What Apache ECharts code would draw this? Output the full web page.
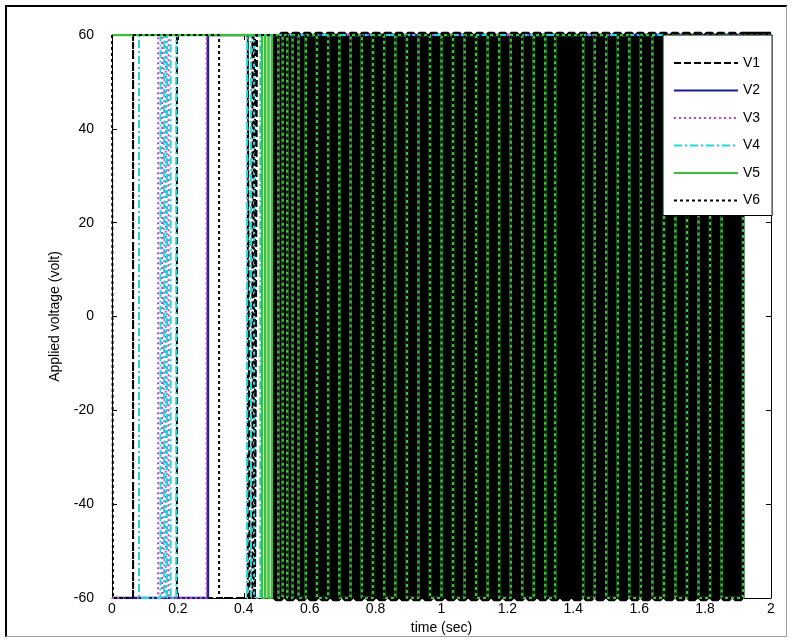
<!DOCTYPE html>
<html>
<head>
<meta charset="utf-8">
<script src="https://cdn.jsdelivr.net/npm/echarts@6/dist/echarts.min.js"></script>
<style>
html,body{margin:0;padding:0;background:#fff;}
#chart{position:absolute;left:0;top:0;width:792px;height:642px;}
#frame{position:absolute;left:5px;top:5px;width:782px;height:632px;box-sizing:border-box;
 border-top:2px solid #000;border-left:2px solid #000;border-right:1px solid #a0a0a0;border-bottom:1px solid #a0a0a0;pointer-events:none;}
</style>
</head>
<body>
<div id="chart"></div>
<div id="frame"></div>
<script>
// ---- data (switching instants of each square-wave voltage, seconds) ----
const seriesNames = ['V1', 'V2', 'V3', 'V4', 'V5', 'V6'];
const xTicks = [0, 0.2, 0.4, 0.6, 0.8, 1, 1.2, 1.4, 1.6, 1.8, 2];
const yTicks = [-60, -40, -20, 0, 20, 40, 60];
const tStart = 0;
const tEnd = 2;
const denseStart = 0.495;

const v1Init = -60;
const v1Switches = [0.064, 0.197, 0.412, 0.418, 0.426, 0.434, 0.44];
const v1DenseSwitches = [
  0.497, 0.514, 0.532, 0.549, 0.567, 0.584, 0.601, 0.619, 0.636, 0.654,
  0.671, 0.689, 0.706, 0.724, 0.741, 0.758, 0.776, 0.793, 0.811, 0.828,
  0.846, 0.863, 0.880, 0.898, 0.915, 0.933, 0.950, 0.968, 0.985, 1.002,
  1.020, 1.037, 1.055, 1.072, 1.090, 1.107, 1.124, 1.142, 1.159, 1.177,
  1.194, 1.212, 1.229, 1.246, 1.264, 1.281, 1.299, 1.316, 1.334, 1.351,
  1.368, 1.386, 1.403, 1.421, 1.438, 1.456, 1.473, 1.490, 1.508, 1.525,
  1.543, 1.560, 1.578, 1.595, 1.612, 1.630, 1.647, 1.665, 1.682, 1.700,
  1.717, 1.734, 1.752, 1.769, 1.787, 1.804, 1.822, 1.839, 1.856, 1.874,
  1.891, 1.909
];
const v2Init = -60;
const v2Switches = [0.291];
const v3Init = -60;
const v3Switches = [0.14, 0.152, 0.163, 0.172, 0.287];
const v4Init = 60;
const v4Switches = [0.082, 0.147, 0.158, 0.167, 0.178, 0.195, 0.41, 0.422, 0.431, 0.45];
const v5Init = 60;
const v5Switches = [0.455, 0.465, 0.475, 0.485,
  0.505, 0.518, 0.532, 0.548, 0.566, 0.588, 0.622, 0.656, 0.69, 0.724,
  0.758, 0.792, 0.826, 0.86, 0.895, 0.93, 0.965, 1.0, 1.035, 1.07,
  1.105, 1.14, 1.175, 1.21, 1.245, 1.28, 1.315, 1.345, 1.43, 1.465,
  1.5, 1.535, 1.57, 1.605, 1.64, 1.675, 1.71, 1.745, 1.78, 1.815, 1.85, 1.915];
const v6Init = 60;
const v6Switches = [0.003, 0.064, 0.325, 0.43,
  0.505, 0.518, 0.532, 0.548, 0.566, 0.588, 0.622, 0.656, 0.69, 0.724,
  0.758, 0.792, 0.826, 0.86, 0.895, 0.93, 0.965, 1.0, 1.035, 1.07,
  1.105, 1.14, 1.175, 1.21, 1.245, 1.28, 1.315, 1.345, 1.43, 1.465,
  1.5, 1.535, 1.57, 1.605, 1.64, 1.675, 1.71, 1.745, 1.78, 1.815, 1.85, 1.915];

// ---- build square waves from switching instants ----
function wave(init, switches, t0, t1) {
  const pts = [[t0, init]];
  let v = init;
  for (const t of switches) {
    pts.push([t, v]);
    v = -v;
    pts.push([t, v]);
  }
  pts.push([t1, v]);
  return pts;
}
function levelAfter(init, switches) {
  return switches.length % 2 === 0 ? init : -init;
}

const FONT = "'Liberation Sans', Arial, sans-serif";
const v1Thin = wave(v1Init, v1Switches, tStart, denseStart);
const v1Dense = wave(levelAfter(v1Init, v1Switches), v1DenseSwitches, denseStart, tEnd);

function lineSeries(name, data, color, width, type) {
  return {
    name: name, type: 'line', data: data, symbol: 'none', showSymbol: false,
    clip: true, silent: true, animation: false,
    lineStyle: { color: color, width: width, type: type },
    itemStyle: { color: color }
  };
}

const chart = echarts.init(document.getElementById('chart'), null, { renderer: 'canvas' });
const axisCommon = {
  type: 'value',
  axisLine: { show: true, onZero: false, lineStyle: { color: '#000', width: 1 } },
  axisTick: { show: true, inside: true, length: 5, lineStyle: { color: '#000' } },
  splitLine: { show: false }
};
chart.setOption({
  animation: false,
  backgroundColor: '#fff',
  textStyle: { fontFamily: FONT },
  grid: { left: 112, right: 21, top: 35, bottom: 44, show: false },
  legend: {
    data: seriesNames,
    orient: 'vertical',
    left: 663, top: 35,
    align: 'left',
    itemWidth: 64, itemHeight: 14, itemGap: 13.5,
    padding: [21, 12, 8, 10],
    backgroundColor: '#fff', borderColor: '#000', borderWidth: 1, borderRadius: 0,
    itemStyle: { opacity: 0 },
    textStyle: { fontSize: 14, color: '#000', fontFamily: FONT },
    selectedMode: false
  },
  xAxis: [
    Object.assign({}, axisCommon, {
      position: 'bottom', min: xTicks[0], max: xTicks[xTicks.length - 1], interval: 0.2,
      axisLabel: { show: true, fontSize: 14, color: '#000', margin: 4, fontFamily: FONT },
      name: 'time (sec)', nameLocation: 'middle', nameGap: 13,
      nameTextStyle: { fontSize: 14, color: '#000', fontFamily: FONT }
    }),
    Object.assign({}, axisCommon, {
      position: 'top', min: xTicks[0], max: xTicks[xTicks.length - 1], interval: 0.2,
      axisLabel: { show: false }
    })
  ],
  yAxis: [
    Object.assign({}, axisCommon, {
      position: 'left', min: yTicks[0], max: yTicks[yTicks.length - 1], interval: 20,
      axisLabel: { show: true, fontSize: 14, color: '#000', margin: 18, fontFamily: FONT },
      name: 'Applied voltage (volt)', nameLocation: 'middle', nameGap: 50, nameRotate: 90,
      nameTextStyle: { fontSize: 14, color: '#000', fontFamily: FONT }
    }),
    Object.assign({}, axisCommon, {
      position: 'right', min: yTicks[0], max: yTicks[yTicks.length - 1], interval: 20,
      axisLabel: { show: false }
    })
  ],
  series: [
    lineSeries('V1', v1Thin, '#000000', 2, [7, 3]),
    lineSeries('V1', v1Dense, '#000000', 7, 'solid'),
    lineSeries('V2', wave(v2Init, v2Switches, tStart, tEnd), '#1c1c8c', 2.5, 'solid'),
    lineSeries('V3', wave(v3Init, v3Switches, tStart, tEnd), '#c040c8', 2, [2, 3]),
    lineSeries('V4', wave(v4Init, v4Switches, tStart, tEnd), '#20d8d8', 2, [8, 3, 2, 3]),
    lineSeries('V5', wave(v5Init, v5Switches, tStart, tEnd), '#3cc03c', 2.5, 'solid'),
    lineSeries('V6', wave(v6Init, v6Switches, tStart, tEnd), '#000000', 2, [3, 3])
  ]
});
</script>
</body>
</html>
